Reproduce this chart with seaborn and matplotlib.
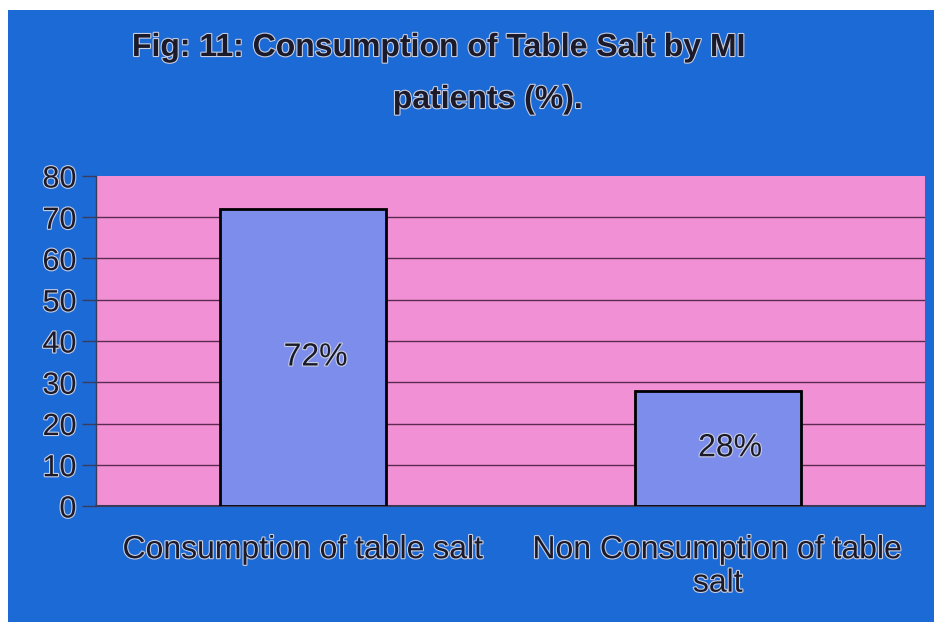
import matplotlib
matplotlib.use("Agg")
import matplotlib.pyplot as plt
import matplotlib.patheffects as pe
import seaborn as sns
import pandas as pd

categories = ["Consumption of table salt", "Non Consumption of table\nsalt"]
values = [72, 28]
bar_labels = ["72%", "28%"]
yticks = [0, 10, 20, 30, 40, 50, 60, 70, 80]
title_line1 = "Fig: 11: Consumption of Table Salt by MI"
title_line2 = "patients (%)."

df = pd.DataFrame({"cat": categories, "val": values})

sns.set_theme(style="white")
plt.rcParams["font.family"] = ["Liberation Sans", "DejaVu Sans"]

BLUE = "#1c6ad6"
PINK = "#f290d6"
BAR = "#7d8deb"
TXT = "#1a1a2a"
fx = [pe.withStroke(linewidth=1.6, foreground="#c8cde0")]

fig = plt.figure(figsize=(9.34, 6.22), dpi=100)
fig.patch.set_facecolor("white")
# blue panel
fig.patches.append(plt.Rectangle((8/934, 0), 1, 1 - 10/622, transform=fig.transFigure,
                                 facecolor=BLUE, edgecolor="none", zorder=-10))

ax = fig.add_axes([96/934, 1 - 506/622, 829/934, 330/622])
ax.set_facecolor(PINK)
sns.barplot(data=df, x="cat", y="val", ax=ax, color=BAR, width=0.40,
            edgecolor="black", linewidth=2, saturation=1, zorder=3)

ax.set_ylim(0, 80)
ax.set_xlim(-0.5, 1.5)
ax.set_yticks(yticks)
ax.set_yticklabels([str(t) for t in yticks], fontsize=22, color=TXT, path_effects=fx)
ax.set_xticklabels(categories, fontsize=23, color=TXT, path_effects=fx, linespacing=1.15)
ax.set_xlabel("")
ax.set_ylabel("")
for t in yticks[1:-1]:
    ax.axhline(t, color="#5a2a50", lw=1, zorder=1)
ax.tick_params(axis="y", length=10, width=1, color="#3a3a5a", pad=4, left=True)
ax.tick_params(axis="x", length=0, pad=21)
for s in ["top", "right"]:
    ax.spines[s].set_visible(False)
ax.spines["left"].set_color("#3a3a5a")
ax.spines["bottom"].set_color("#3a3a5a")
ax.spines["left"].set_linewidth(1)
ax.spines["bottom"].set_linewidth(1.5)

for i, (v, lab) in enumerate(zip(values, bar_labels)):
    ax.text(i + 0.03, v / 2, lab, ha="center", va="center", fontsize=23,
            color=TXT, path_effects=fx, zorder=5)

fig.text(439/934, 1 - 48/622, title_line1, ha="center", va="center", fontsize=23,
         fontweight="bold", color=TXT, path_effects=fx)
fig.text(488/934, 1 - 100/622, title_line2, ha="center", va="center", fontsize=23,
         fontweight="bold", color=TXT, path_effects=fx)

fig.savefig("out.png", dpi=100, facecolor=fig.get_facecolor())
